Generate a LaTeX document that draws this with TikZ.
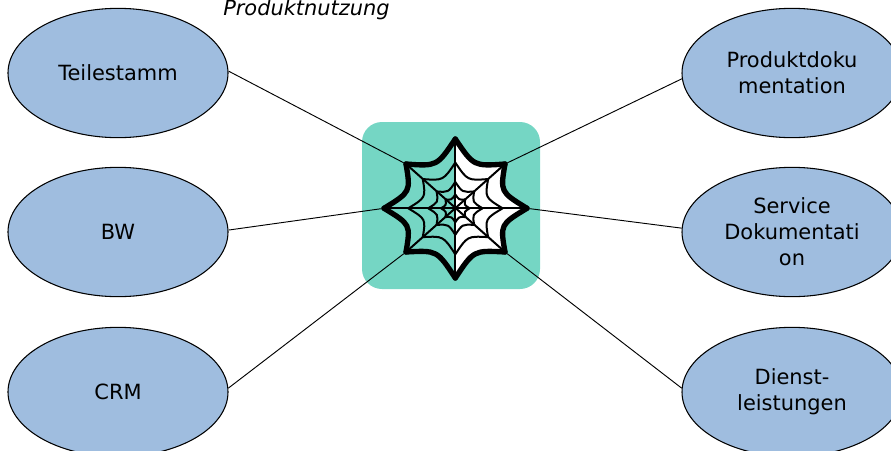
\documentclass[tikz,border=0pt]{standalone}
\usepackage{fontspec}
\setmainfont{DejaVu Sans}
\usetikzlibrary{shapes.geometric}
\usetikzlibrary{calc}
\definecolor{systemblue}{HTML}{9FBDDF}
\definecolor{webteal}{HTML}{75D6C4}
\tikzset{
  system/.style={ellipse, draw=black, fill=systemblue, line width=0.8pt,
    minimum width=165pt, minimum height=97pt, inner sep=0pt,
    align=center, font=\fontsize{15.7}{19.5}\selectfont},
  link/.style={line width=0.7pt, shorten >=2pt},
  webline/.style={line width=1.5pt},
  webrim/.style={line width=4pt, line cap=round, line join=round}
}

\begin{document}
\begin{tikzpicture}[x=0.75pt,y=-0.75pt]

      \useasboundingbox (0,0) rectangle (891,450);
      \clip (0,0) rectangle (891,450);

      % title
      \node (title) at (306.5,10) {\fontsize{15.7}{19.5}\selectfont\itshape Produktnutzung};

      % left systems
      \node [system] (teile) at (118,73) {Teilestamm};
      \node [system] (bw) at (118,232) {BW};
      \node [system] (crm) at (118,392) {CRM};

      % right systems
      \node [system] (produkt) at (792,73) {Produktdoku\\mentation};
      \node [system] (service) at (792,232) {Service\\Dokumentati\\on};
      \node [system] (dienst) at (792,392) {Dienst-\\leistungen};

      % web background
      \node [draw=none, fill=webteal, rounded corners=15pt, minimum width=133.5pt,
      minimum height=125.25pt, inner sep=0pt] (box) at (451,205.5) {};

      % web tips, clockwise from the top
      \coordinate (c) at (455.3,208.3);
      \coordinate (w0) at (455.3,139);
      \coordinate (w1) at (505,164);
      \coordinate (w2) at (527,208.3);
      \coordinate (w3) at (505,252);
      \coordinate (w4) at (455.3,278);
      \coordinate (w5) at (406,252);
      \coordinate (w6) at (384,208.3);
      \coordinate (w7) at (406,164);

      % control points of the arcs
      \foreach \a/\b in {0/1,1/2,2/3,3/4,4/5,5/6,6/7,7/0}
        \coordinate (m\a) at ($.37*(w\a)+.37*(w\b)+.26*(c)$);

      % connectors
      \draw [link] (teile.1) -- (w7);
      \draw [link] (bw.1) -- (w6);
      \draw [link] (crm.2.5) -- (w5);
      \draw [link] (produkt.183) -- (w1);
      \draw [link] (service.178.5) -- (w2);
      \draw [link] (dienst.178) -- (w3);

      % white half
      \fill [white] (w0) .. controls (m0) .. (w1) .. controls (m1) .. (w2)
      .. controls (m2) .. (w3) .. controls (m3) .. (w4) -- cycle;

      % spokes
      \draw [webline] (w0) -- (w4);
      \draw [webline] (w1) -- (w5);
      \draw [webline] (w2) -- (w6);
      \draw [webline] (w3) -- (w7);

      % rings
      \foreach \a/\b in {0/1,1/2,2/3,3/4,4/5,5/6,6/7,7/0}
        \foreach \f in {.2,.38,.66}
          \draw [webline] ($(c)!\f!(w\a)$) .. controls ($(c)!\f!(m\a)$) .. ($(c)!\f!(w\b)$);

      % rim
      \foreach \a/\b in {0/1,1/2,2/3,3/4,4/5,5/6,6/7,7/0}
        \draw [webrim] (w\a) .. controls (m\a) .. (w\b);

\end{tikzpicture}
\end{document}
